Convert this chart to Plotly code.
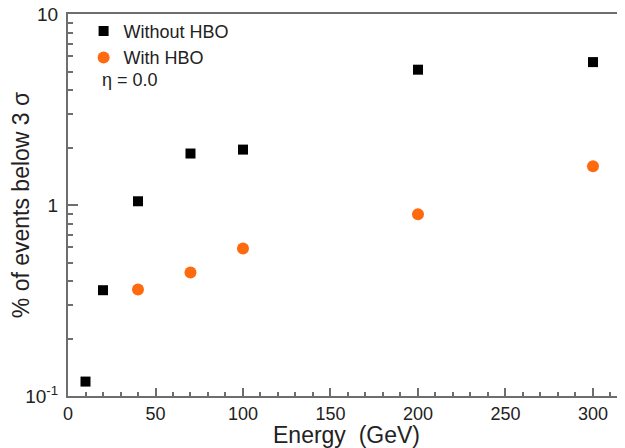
import plotly.graph_objects as go

energy_without = [10, 20, 40, 70, 100, 200, 300]
pct_without = [0.119, 0.358, 1.046, 1.86, 1.95, 5.11, 5.60]
energy_with = [40, 70, 100, 200, 300]
pct_with = [0.361, 0.443, 0.592, 0.895, 1.595]

y_tickvals = [0.1, 1, 10]
y_ticktext = ["10<sup>-1</sup>", "1", "10"]
x_tickvals = [0, 50, 100, 150, 200, 250, 300]

font = "Liberation Sans, Arial, Helvetica, sans-serif"
axis_col = "#6e6e6e"

fig = go.Figure()
fig.add_trace(go.Scatter(
    x=energy_without, y=pct_without, mode="markers", name="Without HBO",
    marker=dict(symbol="square", size=10, color="black"),
))
fig.add_trace(go.Scatter(
    x=energy_with, y=pct_with, mode="markers", name="With HBO",
    marker=dict(symbol="circle", size=12, color="#ff6a0e"),
))

# page body has an 8px margin, so the figure is 617x440 and shifted accordingly
fig.update_layout(
    width=617, height=440,
    margin=dict(l=60, r=0, t=6, b=52),
    paper_bgcolor="white", plot_bgcolor="white",
    font=dict(family=font, size=19, color="#222"),
    showlegend=True,
    legend=dict(x=0.028, y=1.003, xanchor="left", yanchor="top",
                bgcolor="rgba(0,0,0,0)", font=dict(size=18, color="#222"),
                itemwidth=30, tracegroupgap=0),
    annotations=[dict(
        text="η = 0.0", xref="paper", yref="paper", x=0.057, y=0.827,
        xanchor="left", yanchor="middle", showarrow=False,
        font=dict(size=18, color="#222", family=font))],
)

fig.update_xaxes(
    range=[0, 318.3], tickvals=x_tickvals, showgrid=False, zeroline=False,
    automargin=False, ticklabeloverflow="allow",
    showline=True, linecolor=axis_col, linewidth=2, mirror=True,
    ticks="inside", ticklen=8, tickcolor=axis_col, tickwidth=1.5,
    minor=dict(dtick=10, ticks="inside", ticklen=4, tickcolor=axis_col, tickwidth=1.5),
    tickfont=dict(size=18, color="#222"),
    title=dict(text="Energy  (GeV)", font=dict(size=23, color="#222"), standoff=0),
)
fig.update_yaxes(
    type="log", range=[-1, 1], tickvals=y_tickvals, ticktext=y_ticktext,
    showgrid=False, zeroline=False, automargin=False, ticklabeloverflow="allow",
    showline=True, linecolor=axis_col, linewidth=2,
    ticks="inside", ticklen=10, tickcolor=axis_col, tickwidth=1.5,
    minor=dict(ticks="inside", ticklen=5, tickcolor=axis_col, tickwidth=1.5,
               tickvals=[0.2, 0.3, 0.4, 0.5, 0.6, 0.7, 0.8, 0.9, 2, 3, 4, 5, 6, 7, 8, 9]),
    tickfont=dict(size=19, color="#222"), ticklabelstandoff=4,
    title=dict(text="% of events below 3 σ", font=dict(size=23, color="#222"), standoff=2),
)

fig.write_html("out.html")
